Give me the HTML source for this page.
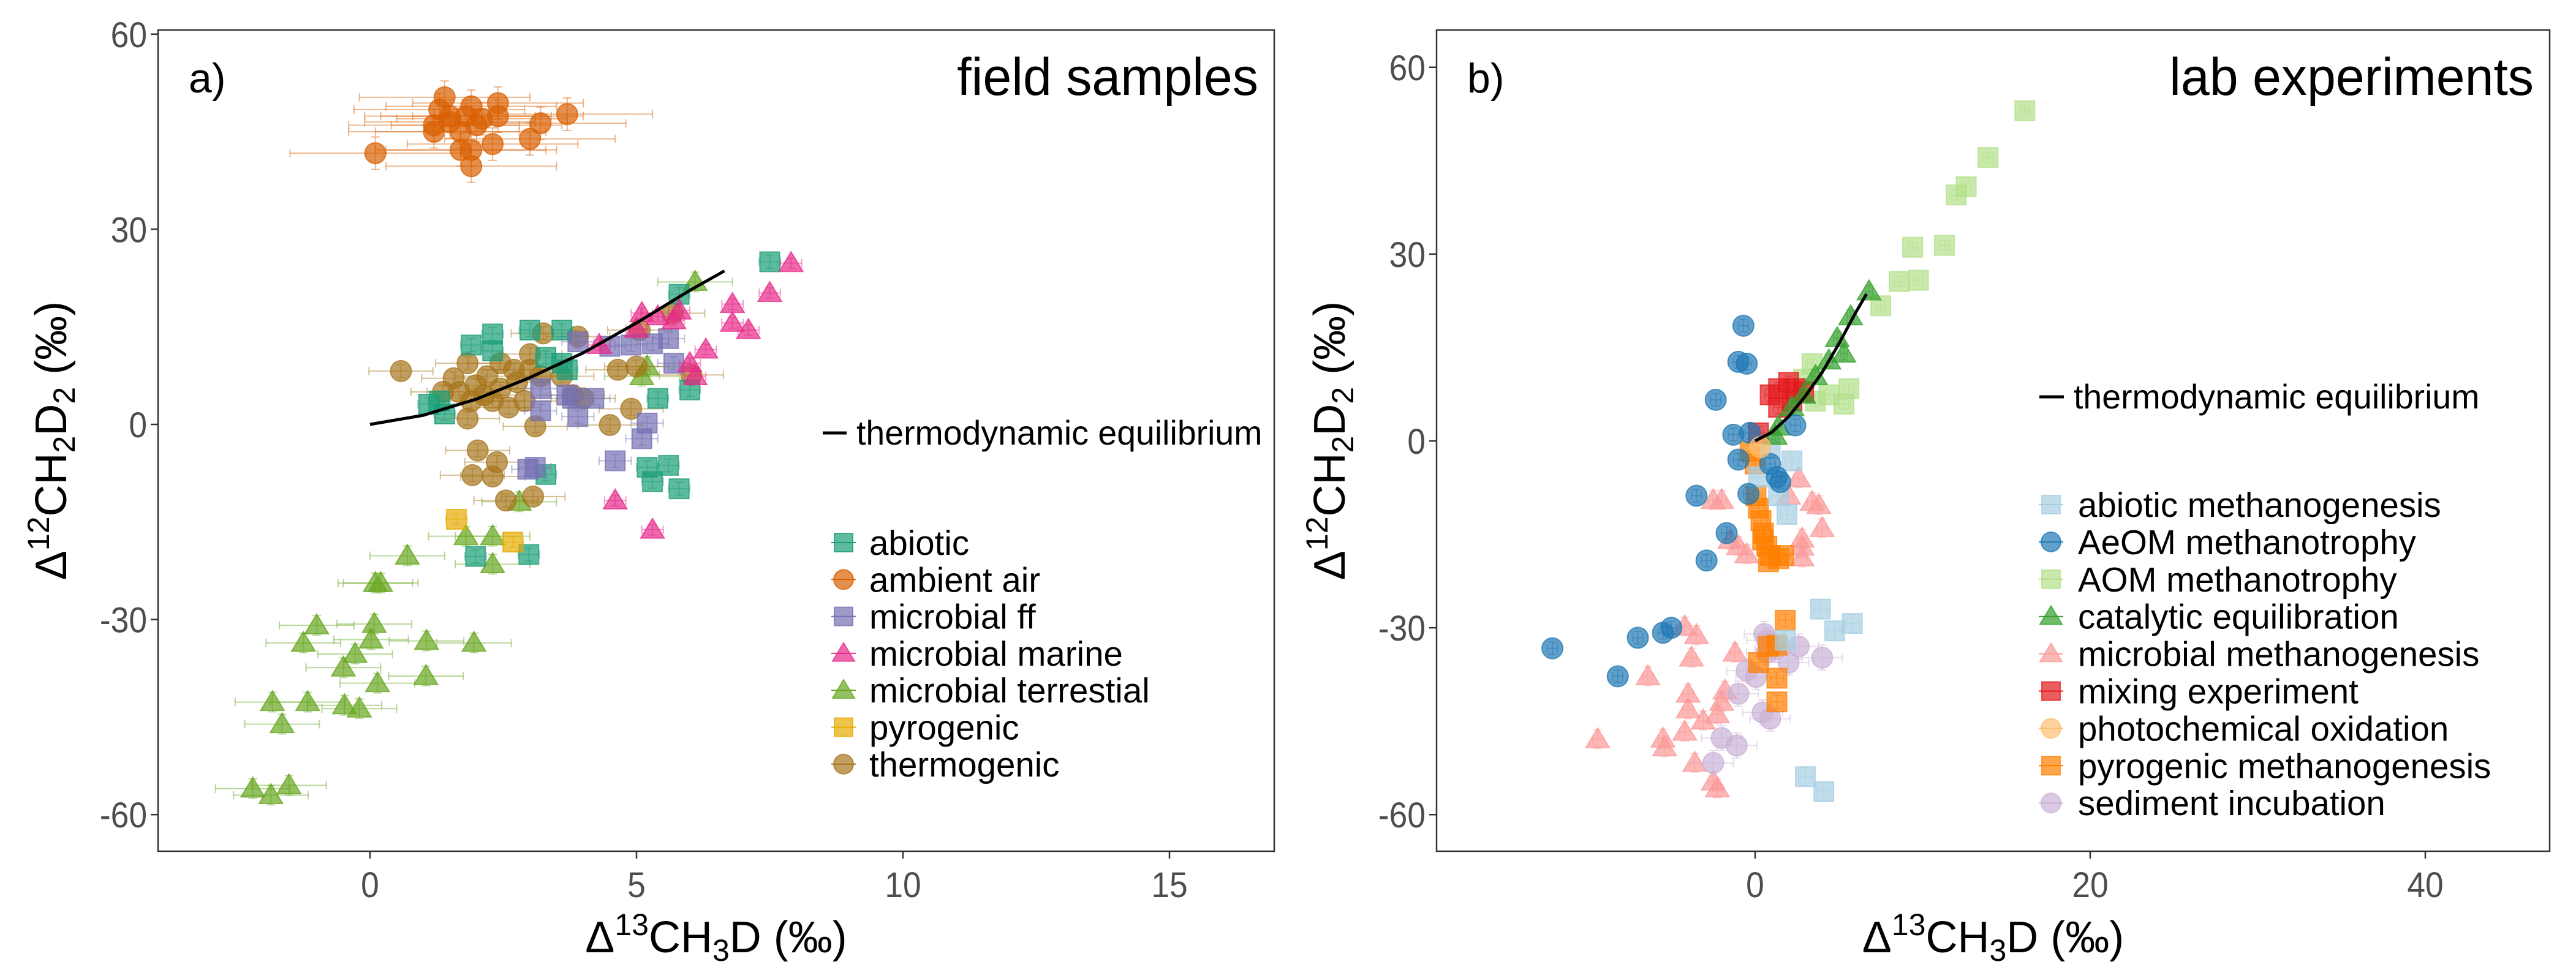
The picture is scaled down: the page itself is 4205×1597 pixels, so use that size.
<!DOCTYPE html>
<html><head><meta charset="utf-8"><style>
html,body{margin:0;padding:0;background:#fff;}
svg{display:block;font-family:"Liberation Sans",sans-serif;}
</style></head><body>
<svg id="fig" width="4205" height="1597" viewBox="0 0 4205 1597" xmlns="http://www.w3.org/2000/svg">
<defs>
<clipPath id="clipL"><rect x="258" y="49" width="1822" height="1341"/></clipPath>
<clipPath id="clipR"><rect x="2345" y="49" width="1817" height="1341"/></clipPath>
</defs>
<g id="panelA"></g>
<g id="panelB"></g>
</svg>
<script>
// ---------- Equilibrium curve ----------
const eqX = [0, 1, 2, 3, 4, 5, 6, 6.65];
const eqY = [0, 1.4, 3.9, 7.2, 11.0, 15.6, 20.6, 23.6];

// ---------- Panel A data ----------
const abioticX = [7.5,5.8,2.3,1.9,3.0,3.6,2.3,3.3,3.7,1.1,1.4,1.3,5.4,6.0,5.2,5.6,5.3,5.8,3.3,1.98,2.98,3.6];
const abioticY = [25,20,13.9,12.2,14.5,14.5,11.3,10.3,8.4,3.1,1.6,3.6,4,5.3,-6.6,-6.3,-8.8,-9.9,-7.7,-20.3,-20,9.4];
const airX = [0.1,1.4,2.4,3.7,3.2,3.0,2.3,1.9,1.7,1.9,1.2,1.5,1.9,2.1,2.4,1.3,1.7,2.0,1.5,1.8,1.2];
const airY = [41.7,50.3,49.4,47.7,46.3,43.9,43.1,42.2,42.2,39.7,46,47.4,48.9,47,47.4,48.4,45,46,46.5,47.4,45];
const ffX = [3.9,4.5,4.9,5.6,5.3,5.7,4.2,3.9,3.2,3.7,5.2,5.1,4.6,2.96,3.1,3.2,3.8];
const ffY = [12.7,12,12.2,13.2,12.4,9.4,4,1.2,2.1,4.5,0.2,-2.2,-5.6,-6.9,-6.6,5.5,4];
const marineX = [7.9,7.5,6.8,6.8,7.1,6.3,6.1,5.8,5.1,5.4,5.0,4.3,4.6,5.3,6.0,5.7];
const marineY = [24.8,20.2,18.5,15.6,14.5,11.5,7.4,17.5,17.1,16.6,14.7,12.2,-11.7,-16.2,9.4,16];
const terrX = [6.1,5.1,5.2,2.8,1.8,2.3,2.3,0.7,0.1,0.2,-1.0,-1.25,0.08,0.02,1.06,1.95,-0.28,-0.5,0.14,1.05,-1.83,-1.17,-0.48,-0.2,-1.65,-2.2,-1.86,-1.52];
const terrY = [21.9,7.4,8.9,-11.9,-17.2,-17.2,-21.5,-20.2,-24.4,-24.4,-30.9,-33.6,-30.7,-33.1,-33.3,-33.6,-35.3,-37.4,-39.8,-38.7,-42.7,-42.7,-43.2,-43.7,-46.1,-56,-57,-55.5];
const pyroX = [1.62,2.68];
const pyroY = [-14.6,-18.1];
const thermoX = [0.58,1.57,1.83,1.83,3.25,3.9,3.0,2.45,2.2,1.98,1.67,2.3,2.6,2.9,3.1,3.6,3.8,4.0,4.65,4.9,4.5,5.0,5.06,5.68,6.03,2.02,2.38,1.92,2.3,2.55,3.06,1.37,2.7,2.45,2.14,2.76,3.0,3.2,1.9];
const thermoY = [8.2,7.1,9.4,0.9,14,13.5,10.8,9.4,7.4,6,5,3.6,2.6,3.6,-0.3,7.4,4.5,4,8.4,2.4,-0.1,8.9,14.5,17.1,7.6,-4,-5.8,-7.8,-8,-11.7,-11.1,5,8.4,5.5,4.5,6.5,8.4,7.4,3.6];

// ---------- Panel B data ----------
const abioMX = [2.2,1.4,1.9,0.2,0.9,3.9,4.75,5.8,3.0,4.1,1.8];
const abioMY = [-3.2,-8.8,-11.8,-5.8,-1.2,-27,-30.5,-29.3,-53.9,-56.3,-32];
const aeomX = [-0.7,-1,-0.5,-2.35,-1.3,-0.3,-1,2.4,1.3,1.5,-0.4,-3.5,-1.7,-2.9,-12.1,-8.2,-7,-5.5,-5,0.9];
const aeomY = [18.5,12.7,12.4,6.6,1,1.3,-3,2.5,-5.8,-6.6,-8.5,-8.8,-14.8,-19.2,-33.3,-37.8,-31.6,-30.8,-30,-3.7];
const aomX = [16.1,13.9,12.6,12,11.3,9.4,9.75,8.6,7.5,3.4,5.6,5.3,4.4,2.9,3.6];
const aomY = [53,45.5,40.8,39.5,31.4,31.1,25.8,25.6,21.7,12.4,8.4,5.9,7.4,9.9,6.4];
const catX = [6.8,5.7,5.3,4.9,4.4,3.6,2.9,2.2,1.4,1.2];
const catY = [24,20,14,16.5,12.9,10.4,7.4,5.4,2.3,0.8];
const methX = [-2.5,-2,2.6,2.0,3.4,3.8,4.0,2.8,2.8,2.8,-1.5,-1,-0.5,-4.2,-3.5,-1.2,-3.8,-6.4,-4,-1.8,-2,-4,-2.25,-3.1,-9.4,-5.5,-5.4,-4.2,-3.6,-2.5,-2.25];
const methY = [-9.5,-9.5,-6,-8.8,-9.8,-10.3,-14,-15.7,-18.7,-17,-15.9,-16.9,-18.2,-29.8,-31.2,-34,-34.8,-37.8,-40.6,-40.1,-41.9,-43.1,-43.9,-44.9,-47.9,-47.8,-49.2,-46.7,-51.7,-54.7,-55.8];
const mixX = [0.9,1.4,2,2.4,2.9,1.4,2.2,0.2];
const mixY = [7.4,8.4,9.4,8.4,7.9,5.4,6.4,1.3];
const photoX = [0.3];
const photoY = [-1];
const pyroMX = [-0.3,0,0.05,0.2,0.35,0.5,0.7,0.9,1.4,1.7,0.8,0.45,1.8,1.3,1.3,1.3,0.2,0.8];
const pyroMY = [-1.7,-3.7,-8.8,-10.8,-12.8,-14.8,-16.9,-18.4,-18.9,-18.4,-19.4,-15.9,-28.8,-32.8,-38.1,-41.9,-35.6,-33];
const sedX = [0.55,2.6,4,2,0.7,-0.5,0.05,-1,0.45,0.9,-2,-1.1,-2.5,0.7,1.2];
const sedY = [-31,-33,-34.8,-35.6,-34,-36.9,-37.9,-40.6,-43.6,-44.6,-47.7,-48.9,-51.7,-32,-33.5];

// ---------- Axis ticks ----------
const aXTicks = [0,5,10,15];
const aYTicks = [60,30,0,-30,-60];
const bXTicks = [0,20,40];
const bYTicks = [60,30,0,-30,-60];

// ---------- Scales ----------
const ax = v => 604 + v*87;
const ay = v => 693 - v*10.62;
const bx = v => 2865 + v*27.35;
const by = v => 720 - v*10.17;

const NS = "http://www.w3.org/2000/svg";
function mk(tag, attrs, parent){
  const e = document.createElementNS(NS, tag);
  for (const k in attrs) e.setAttribute(k, attrs[k]);
  if (parent) parent.appendChild(e);
  return e;
}
function shape(g, kind, cx, cy, color, s){
  let e;
  if (kind==='square') e = mk('rect',{x:cx-s,y:cy-s,width:2*s,height:2*s},g);
  else if (kind==='circle') e = mk('circle',{cx:cx,cy:cy,r:s+1},g);
  else e = mk('polygon',{points:`${cx},${cy-s*1.15} ${cx-s*1.2},${cy+s*0.85} ${cx+s*1.2},${cy+s*0.85}`},g);
  e.setAttribute('fill', color);
  e.setAttribute('fill-opacity','0.7');
  e.setAttribute('stroke', color);
  e.setAttribute('stroke-opacity','0.75');
  e.setAttribute('stroke-width','2');
  return e;
}
function series(g, name, xs, ys, sx, sy, kind, color, xe, ye){
  const sg = mk('g',{},g);
  
  
  for (let i=0;i<xs.length;i++){
    const cx = sx(xs[i]), cy = sy(ys[i]);
    if (xe>0 || ye>0){
      const eg = mk('g',{stroke:color,'stroke-width':2,'stroke-opacity':0.45,fill:'none'},sg);
      
      
      const x1=sx(xs[i]-xe), x2=sx(xs[i]+xe), y1=sy(ys[i]+ye), y2=sy(ys[i]-ye);
      mk('line',{x1:x1,y1:cy,x2:x2,y2:cy},eg);
      mk('line',{x1:x1,y1:cy-7,x2:x1,y2:cy+7},eg);
      mk('line',{x1:x2,y1:cy-7,x2:x2,y2:cy+7},eg);
      mk('line',{x1:cx,y1:y1,x2:cx,y2:y2},eg);
      mk('line',{x1:cx-7,y1:y1,x2:cx+7,y2:y1},eg);
      mk('line',{x1:cx-7,y1:y2,x2:cx+7,y2:y2},eg);
    }
    const m = shape(sg, kind, cx, cy, color, 16);
    
    
  }
}
function txt(g, x, y, s, size, anchor, fill, sc){
  const t = mk('text',{x:0,y:0,'font-size':size,'text-anchor':anchor,fill:fill,transform:`translate(${x},${y}) scale(${sc||1},1)`},g);
  t.textContent = s;
  return t;
}
function axes(g, box, xt, yt, sx, sy, label){
  const [x0,y0,x1,y1] = box;
  const frame = mk('rect',{x:x0,y:y0,width:x1-x0,height:y1-y0,fill:'none',stroke:'#333','stroke-width':2.5},g);
  
  
  xt.forEach(v=>{
    const x = sx(v);
    mk('line',{x1:x,y1:y1,x2:x,y2:y1+12,stroke:'#333','stroke-width':2.5},g);
    const t = txt(g, x, y1+75, String(v), 58, 'middle', '#4d4d4d', 0.92);
    
    
  });
  yt.forEach(v=>{
    const y = sy(v);
    mk('line',{x1:x0-12,y1:y,x2:x0,y2:y,stroke:'#333','stroke-width':2.5},g);
    const t = txt(g, x0-18, y+21, String(v), 58, 'end', '#4d4d4d', 0.92);
    
    
  });
  const cxm = (x0+x1)/2, cym=(y0+y1)/2;
  const xtT = mk('text',{x:cxm,y:1555,'font-size':72,'text-anchor':'middle',fill:'#000'},g);
  xtT.innerHTML = 'Δ<tspan dy="-28" font-size="50">13</tspan><tspan dy="28">CH</tspan><tspan dy="14" font-size="50">3</tspan><tspan dy="-14">D (‰)</tspan>';
  
  
  const ytT = mk('text',{x:0,y:0,'font-size':72,'text-anchor':'middle',fill:'#000',transform:`translate(${x0-150},${cym}) rotate(-90)`},g);
  ytT.innerHTML = 'Δ<tspan dy="-28" font-size="50">12</tspan><tspan dy="28">CH</tspan><tspan dy="14" font-size="50">2</tspan><tspan dy="-14">D</tspan><tspan dy="14" font-size="50">2</tspan><tspan dy="-14"> (‰)</tspan>';
  
  
  const pl = txt(g, x0+50, y0+102, label[0], 68, 'start', '#000');
  
  
  const tt = txt(g, x1-26, y0+106, label[1], 86, 'end', '#000', 0.98);
  
  
}
function eqLine(g, sx, sy){
  let d='';
  eqX.forEach((v,i)=>{ d += (i?'L':'M')+sx(v)+','+sy(eqY[i]); });
  const p = mk('path',{d:d,fill:'none',stroke:'#000','stroke-width':5,'stroke-linejoin':'round'},g);
  
  
}
function legend(g, items, kx, tx, y0, dy, eqPos){
  const eg = mk('g',{},g);
  
  
  mk('line',{x1:eqPos[0],y1:eqPos[2],x2:eqPos[1],y2:eqPos[2],stroke:'#000','stroke-width':5},eg);
  txt(eg, eqPos[1]+16, eqPos[2]+19, 'thermodynamic equilibrium', 56, 'start', '#000', 0.99);
  items.forEach((it,i)=>{
    const y = y0 + i*dy;
    const lg = mk('g',{},g);
    
    
    shape(lg, it[1], kx, y, it[2], 15);
    mk('line',{x1:kx-20,y1:y,x2:kx+20,y2:y,stroke:it[2],'stroke-width':2},lg);
    txt(lg, tx, y+20, it[0], 57, 'start', '#000', 0.99);
  });
}

// ---- Panel A ----
const A = document.getElementById('panelA');
axes(A, [258,49,2080,1390], aXTicks, aYTicks, ax, ay, ['a)','field samples']);
const Ad = mk('g',{'clip-path':'url(#clipL)'},A);
series(Ad,'ambient-air',airX,airY,ax,ay,'circle','#d95f02',1.6,2.5);
series(Ad,'microbial-terrestial',terrX,terrY,ax,ay,'triangle','#66a61e',0.7,1.5);
series(Ad,'thermogenic',thermoX,thermoY,ax,ay,'circle','#a6761d',0.6,1);
series(Ad,'abiotic',abioticX,abioticY,ax,ay,'square','#1b9e77',0.2,1);
series(Ad,'microbial-ff',ffX,ffY,ax,ay,'square','#7570b3',0.3,1);
series(Ad,'microbial-marine',marineX,marineY,ax,ay,'triangle','#e7298a',0.2,0.8);
series(Ad,'pyrogenic',pyroX,pyroY,ax,ay,'square','#e6ab02',0.2,0.8);
eqLine(Ad, ax, ay);
legend(A, [['abiotic','square','#1b9e77'],['ambient air','circle','#d95f02'],['microbial ff','square','#7570b3'],['microbial marine','triangle','#e7298a'],['microbial terrestial','triangle','#66a61e'],['pyrogenic','square','#e6ab02'],['thermogenic','circle','#a6761d']],
  1377, 1419, 886, 60.3, [1343,1382,707]);

// ---- Panel B ----
const B = document.getElementById('panelB');
axes(B, [2345,49,4162,1390], bXTicks, bYTicks, bx, by, ['b)','lab experiments']);
const Bd = mk('g',{'clip-path':'url(#clipR)'},B);
series(Bd,'aom-methanotrophy',aomX,aomY,bx,by,'square','#b2df8a',0.3,0.8);
series(Bd,'microbial-methanogenesis',methX,methY,bx,by,'triangle','#fb9a99',0.3,1.5);
series(Bd,'sediment-incubation',sedX,sedY,bx,by,'circle','#cab2d6',1.2,2);
series(Bd,'pyrogenic-methanogenesis',pyroMX,pyroMY,bx,by,'square','#ff7f00',0.4,1);
series(Bd,'abiotic-methanogenesis',abioMX,abioMY,bx,by,'square','#a6cee3',0.4,1.5);
series(Bd,'mixing-experiment',mixX,mixY,bx,by,'square','#e31a1c',0.3,1);
series(Bd,'catalytic-equilibration',catX,catY,bx,by,'triangle','#33a02c',0.2,1);
series(Bd,'aeom-methanotrophy',aeomX,aeomY,bx,by,'circle','#1f78b4',0.3,1);
series(Bd,'photochemical-oxidation',photoX,photoY,bx,by,'circle','#fdbf6f',0.3,1);
eqLine(Bd, bx, by);
legend(B, [['abiotic methanogenesis','square','#a6cee3'],['AeOM methanotrophy','circle','#1f78b4'],['AOM methanotrophy','square','#b2df8a'],['catalytic equilibration','triangle','#33a02c'],['microbial methanogenesis','triangle','#fb9a99'],['mixing experiment','square','#e31a1c'],['photochemical oxidation','circle','#fdbf6f'],['pyrogenic methanogenesis','square','#ff7f00'],['sediment incubation','circle','#cab2d6']],
  3348, 3392, 824, 60.9, [3329,3369,648]);
</script>
</body></html>
